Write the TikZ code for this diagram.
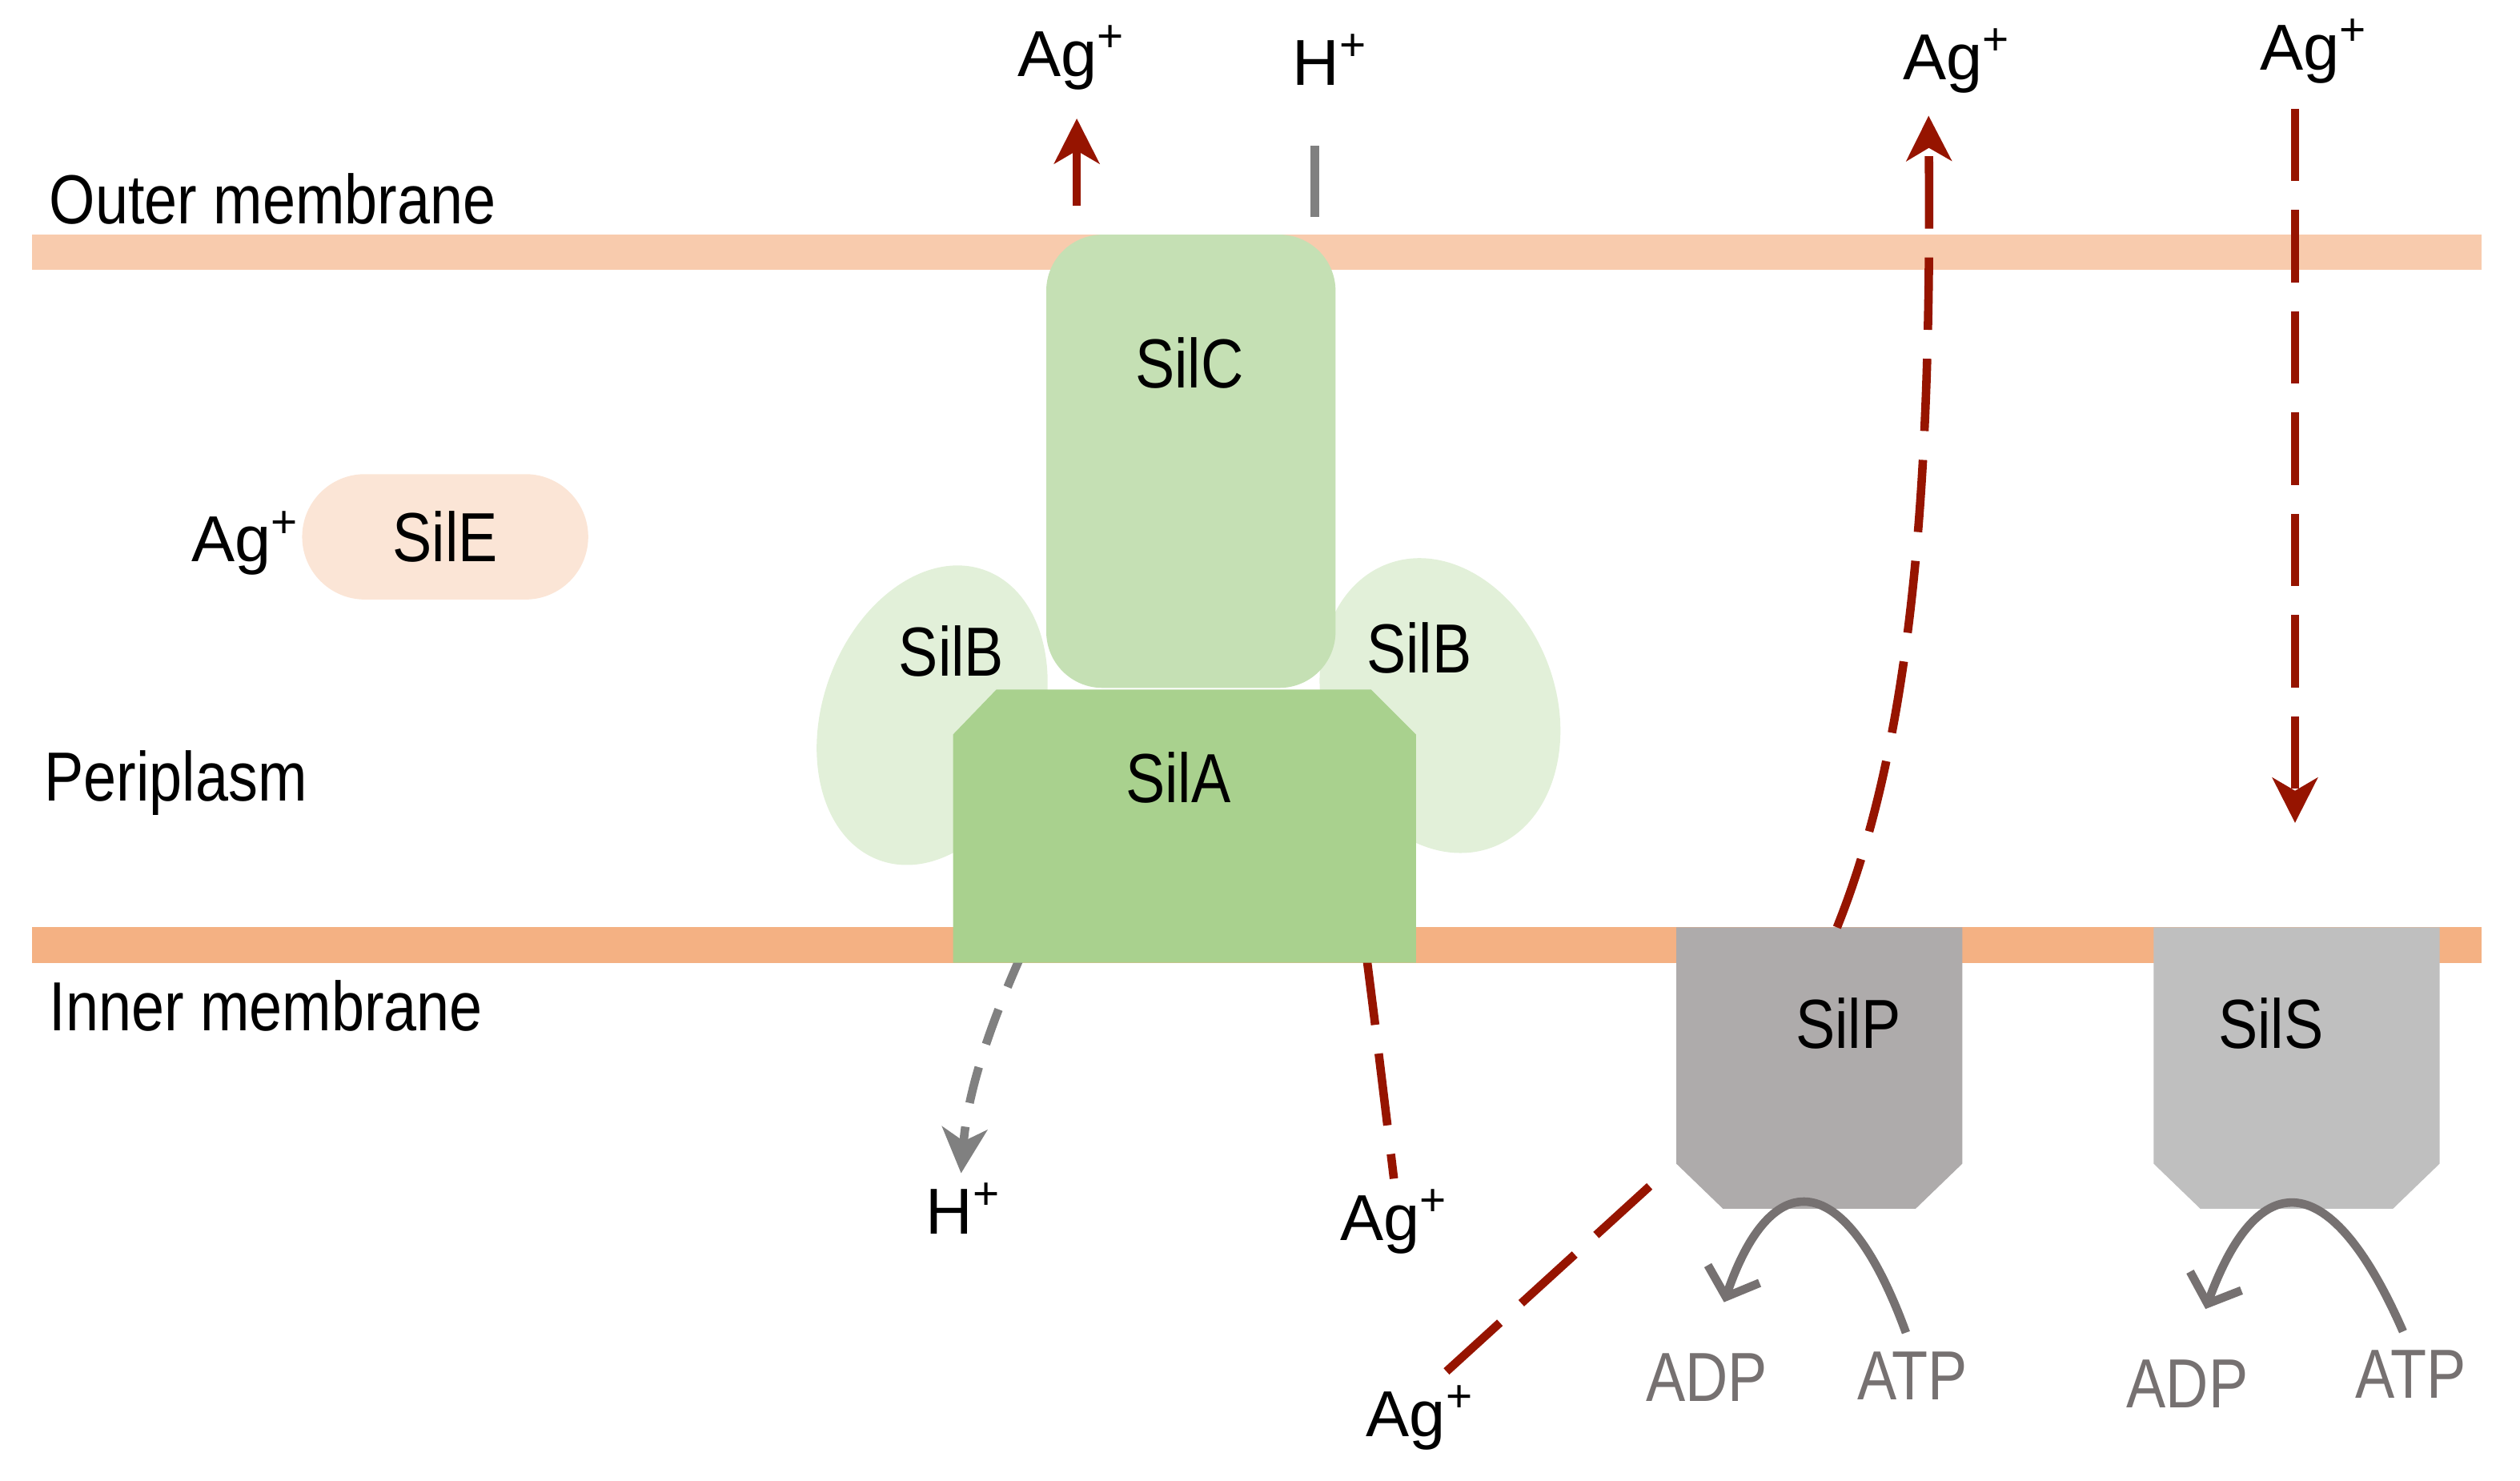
\documentclass[tikz,border=0pt]{standalone}
\usepackage{fontspec}
\setmainfont{Liberation Sans}
\newfontfamily\protfont[FakeStretch=0.85]{Liberation Sans}
\usetikzlibrary{arrows.meta}

\definecolor{outermem}{HTML}{F8CBAD}
\definecolor{innermem}{HTML}{F4B183}
\definecolor{silEfill}{HTML}{FBE5D6}
\definecolor{silCfill}{HTML}{C5E0B4}
\definecolor{silBfill}{HTML}{E2F0D9}
\definecolor{silAfill}{HTML}{A9D18E}
\definecolor{silPfill}{HTML}{AEABAB}
\definecolor{silSfill}{HTML}{BFBFBF}
\definecolor{agred}{HTML}{961400}
\definecolor{hgrey}{HTML}{808080}
\definecolor{atpgrey}{HTML}{767171}

\tikzset{
	ion/.style={font=\fontsize{11.5}{13}\selectfont, inner sep=0pt},
	prot/.style={font=\protfont\fontsize{12.3}{14}\selectfont, inner sep=0pt},
	region/.style={prot, anchor=west},
	agline/.style={agred, line width=1.5pt, dash pattern=on 0.45cm off 0.18cm},
	hline/.style={hgrey, line width=1.5pt, dash pattern=on 0.23cm off 0.15cm},
	tip/.style={-{Stealth[length=0.28cm, width=0.28cm, inset=0.08cm]}},
	atpline/.style={atpgrey, line width=1.5pt, -{Straight Barb[length=0.15cm, width=0.34cm]}},
}

\begin{document}
\begin{tikzpicture}[x=1cm, y=-1cm]
	\useasboundingbox (0,0) rectangle (15.68,9.21);
	% membranes
	\fill[outermem] (0.20,1.46) rectangle (15.44,1.68);
	\fill[innermem] (0.20,5.77) rectangle (15.44,5.99);
	\node[region] (outerLbl) at (0.30,1.24) {Outer membrane};
	\node[region] (periLbl) at (0.27,4.87) {Periplasm};
	\node[region] (innerLbl) at (0.30,6.26) {Inner membrane};
	% ions
	\node[ion] (agOut1) at (6.67,0.36) {Ag\textsuperscript{+}};
	\node[ion] (hOut) at (8.28,0.37) {H\textsuperscript{+}};
	\node[ion] (agOut2) at (12.18,0.38) {Ag\textsuperscript{+}};
	\node[ion] (agOut3) at (14.40,0.32) {Ag\textsuperscript{+}};
	\node[ion] (agE) at (1.53,3.38) {Ag\textsuperscript{+}};
	\node[ion] (hIn) at (6.00,7.52) {H\textsuperscript{+}};
	\node[ion] (agIn1) at (8.68,7.60) {Ag\textsuperscript{+}};
	\node[ion] (agIn2) at (8.84,8.82) {Ag\textsuperscript{+}};
	% free ends of the fluxes
	\coordinate (silCexit) at (6.70,1.28);
	\coordinate (hTick) at (8.18,1.35);
	\coordinate (agDown) at (14.28,5.12);
	\coordinate (silPtop) at (11.43,5.77);
	\coordinate (agUp) at (12.00,0.72);
	\coordinate (silPin) at (10.32,7.33);
	\coordinate (silAh) at (6.36,5.93);
	\coordinate (silAag) at (8.50,5.93);
	% Ag+ into the periplasm
	\draw[agline, tip] ([yshift=-0.15cm]agOut3.south -| agDown) -- (agDown);
	% SilB
	\fill[silBfill] (5.80,4.45) ellipse [x radius=0.68, y radius=0.96, rotate=-20];
	\fill[silBfill] (8.96,4.39) ellipse [x radius=0.72, y radius=0.94, rotate=20];
	% fluxes below SilA (start hidden under it)
	\draw[hline, tip] (silAh) .. controls (6.15,6.40) and (6.02,6.80) .. (5.98,7.30);
	\draw[agline] (silAag) .. controls (8.56,6.40) .. (agIn1.north) [shorten >=0.06cm];
	% SilC and SilA
	\fill[silCfill, rounded corners=0.35cm] (6.51,1.46) rectangle (8.31,4.28);
	\fill[silAfill] (6.20,4.29) -- (8.53,4.29) -- (8.81,4.57) -- (8.81,5.99)
		-- (5.93,5.99) -- (5.93,4.57) -- cycle;
	% out through SilC
	\draw[agred, line width=1.5pt, tip, shorten >=0.17cm] (silCexit) -- (silCexit |- agOut1.south);
	\draw[hgrey, line width=1.5pt, shorten >=0.37cm] (hTick) -- (hTick |- hOut.south);
	% SilP and SilS
	\fill[silPfill] (10.43,5.77) -- (12.21,5.77) -- (12.21,7.24) -- (11.92,7.52)
		-- (10.72,7.52) -- (10.43,7.24) -- cycle;
	\fill[silSfill] (13.40,5.77) -- (15.18,5.77) -- (15.18,7.24) -- (14.89,7.52)
		-- (13.69,7.52) -- (13.40,7.24) -- cycle;
	% Ag+ pumped by SilP
	\draw[agline] ([shift={(0.16cm,0.08cm)}]agIn2.north) -- (silPin);
	\draw[agline, tip] (silPtop) .. controls (11.90,4.60) and (12.02,3.00) .. (agUp);
	% protein names
	\node[prot, fill=silEfill, minimum width=1.78cm, minimum height=0.78cm,
		rounded corners=0.39cm] (silE) at (2.77,3.34) {SilE};
	\node[prot] (silC) at (7.40,2.26) {SilC};
	\node[prot] (silBl) at (5.92,4.05) {SilB};
	\node[prot] (silBr) at (8.83,4.03) {SilB};
	\node[prot] (silA) at (7.33,4.84) {SilA};
	\node[prot] (silP) at (11.50,6.37) {SilP};
	\node[prot] (silS) at (14.13,6.37) {SilS};
	% ATP hydrolysis
	\node[prot, text=atpgrey] (adpP) at (10.62,8.57) {ADP};
	\node[prot, text=atpgrey] (atpP) at (11.90,8.56) {ATP};
	\node[prot, text=atpgrey] (adpS) at (13.61,8.61) {ADP};
	\node[prot, text=atpgrey] (atpS) at (15.00,8.55) {ATP};
	\draw[atpline, shorten <=0.12cm, shorten >=0.33cm] (atpP.north)
		.. controls (11.48,7.25) and (11.02,7.25) .. (adpP.north);
	\draw[atpline, shorten <=0.12cm, shorten >=0.33cm] (atpS.north)
		.. controls (14.50,7.25) and (14.05,7.25) .. (adpS.north);
\end{tikzpicture}
\end{document}
